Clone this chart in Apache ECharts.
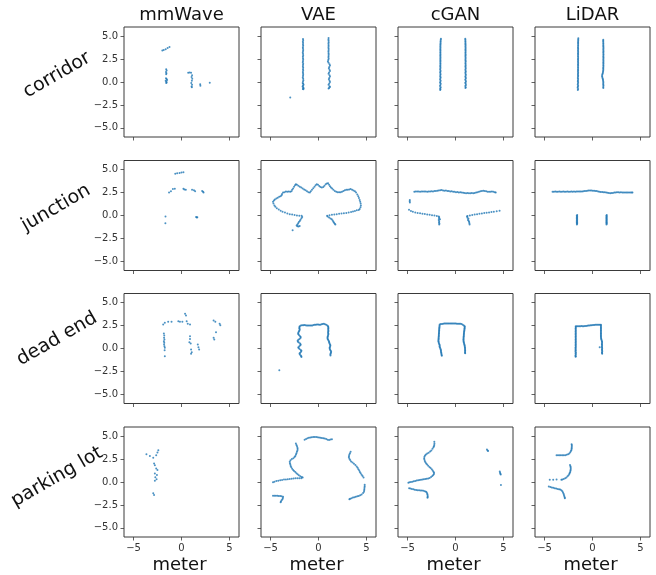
<!DOCTYPE html>
<html><head><meta charset="utf-8">
<script src="https://cdn.jsdelivr.net/npm/echarts@6/dist/echarts.min.js"></script>
<style>html,body{margin:0;padding:0;background:#fff}#c{width:656px;height:575px}</style>
</head><body><div id="c"></div>
<script>
const columns = ['mmWave', 'VAE', 'cGAN', 'LiDAR'];
const rows = ['corridor', 'junction', 'dead end', 'parking lot'];
const xTicks = [-5, 0, 5];
const yTicks = [-5, -2.5, 0, 2.5, 5];
const xLabelText = 'meter';

const corridorMmWave = [[-2.0,3.45],[-1.85,3.5],[-1.65,3.58],[-1.45,3.7],[-1.25,3.82],
[-1.6,1.4],[-1.55,1.25],[-1.62,1.1],[-1.57,0.95],[-1.6,0.85],[-1.62,0.42],[-1.55,0.32],[-1.5,0.22],[-1.65,0.15],[-1.58,0.05],[-1.55,-0.05],[-1.6,-0.12],
[0.7,1.0],[0.85,1.05],[1.0,1.02],[1.1,0.75],[1.05,0.55],[1.12,0.35],[1.08,0.15],[1.02,-0.1],[1.1,-0.3],[1.05,-0.5],[1.08,-0.58],
[1.95,-0.25],[1.97,-0.4],[2.95,-0.08]];

const corridorVAE = [[-1.62,4.7],[-1.6,4.55],[-1.63,4.4],[-1.61,4.25],[-1.62,4.1],[-1.6,3.95],[-1.63,3.8],[-1.62,3.65],[-1.6,3.5],[-1.62,3.35],[-1.64,3.2],[-1.61,3.05],[-1.6,2.9],[-1.63,2.75],[-1.62,2.6],[-1.6,2.45],[-1.62,2.3],[-1.64,2.15],[-1.6,2.0],[-1.62,1.85],[-1.63,1.7],[-1.6,1.55],[-1.62,1.4],[-1.6,1.25],[-1.63,1.1],[-1.61,0.95],[-1.6,0.8],[-1.62,0.65],[-1.64,0.5],[-1.6,0.35],[-1.58,0.2],[-1.62,0.05],[-1.65,-0.1],[-1.6,-0.2],[-1.56,-0.3],[-1.62,-0.4],[-1.66,-0.5],[-1.6,-0.6],[-1.55,-0.68],[-1.63,-0.75],[-1.58,-0.8],
[1.05,4.8],[1.04,4.65],[1.05,4.5],[1.06,4.35],[1.04,4.2],[1.05,4.05],[1.05,3.9],[1.04,3.75],[1.06,3.6],[1.05,3.45],[1.04,3.3],[1.05,3.15],[1.06,3.0],[1.05,2.85],[1.04,2.7],[1.06,2.55],[1.02,2.4],[0.98,2.25],[1.05,2.1],[1.15,1.95],[1.2,1.8],[1.12,1.65],[1.08,1.5],[1.15,1.35],[1.2,1.2],[1.1,1.05],[1.05,0.9],[1.15,0.75],[1.2,0.6],[1.12,0.45],[1.08,0.3],[1.15,0.15],[1.2,0.0],[1.12,-0.15],[1.05,-0.3],[1.15,-0.45],[1.2,-0.55],[1.1,-0.65],[1.05,-0.72],
[-2.95,-1.7]];

const corridorCGAN = [[-1.52,4.72],[-1.54,4.6],[-1.55,4.48],[-1.56,4.36],[-1.56,4.24],[-1.57,4.12],[-1.57,4.0],[-1.58,3.88],[-1.57,3.76],[-1.58,3.64],[-1.58,3.52],[-1.57,3.4],[-1.58,3.28],[-1.58,3.16],[-1.57,3.04],[-1.58,2.92],[-1.58,2.8],[-1.57,2.68],[-1.58,2.56],[-1.58,2.44],[-1.57,2.32],[-1.58,2.2],[-1.58,2.08],[-1.57,1.96],[-1.58,1.84],[-1.59,1.72],[-1.57,1.6],[-1.58,1.48],[-1.6,1.36],[-1.56,1.24],[-1.58,1.12],[-1.6,1.0],[-1.56,0.88],[-1.58,0.76],[-1.6,0.64],[-1.55,0.52],[-1.58,0.4],[-1.61,0.28],[-1.55,0.16],[-1.58,0.04],[-1.61,-0.08],[-1.54,-0.2],[-1.58,-0.32],[-1.62,-0.44],[-1.54,-0.56],[-1.6,-0.68],[-1.57,-0.8],[-1.6,-0.86],
[1.02,4.72],[1.03,4.6],[1.03,4.48],[1.04,4.36],[1.04,4.24],[1.04,4.12],[1.05,4.0],[1.04,3.88],[1.05,3.76],[1.05,3.64],[1.04,3.52],[1.05,3.4],[1.05,3.28],[1.04,3.16],[1.05,3.04],[1.05,2.92],[1.04,2.8],[1.05,2.68],[1.05,2.56],[1.04,2.44],[1.05,2.32],[1.06,2.2],[1.04,2.08],[1.05,1.96],[1.06,1.84],[1.04,1.72],[1.05,1.6],[1.07,1.48],[1.03,1.36],[1.05,1.24],[1.07,1.12],[1.03,1.0],[1.05,0.88],[1.08,0.76],[1.03,0.64],[1.05,0.52],[1.08,0.4],[1.02,0.28],[1.06,0.16],[1.09,0.04],[1.02,-0.08],[1.06,-0.2],[1.09,-0.32],[1.02,-0.44],[1.07,-0.56],[1.04,-0.66]];

const corridorLiDAR = [[-1.48,4.76],[-1.49,4.64],[-1.49,4.52],[-1.5,4.4],[-1.5,4.28],[-1.5,4.16],[-1.5,4.04],[-1.5,3.92],[-1.51,3.8],[-1.5,3.68],[-1.5,3.56],[-1.51,3.44],[-1.5,3.32],[-1.5,3.2],[-1.51,3.08],[-1.5,2.96],[-1.51,2.84],[-1.5,2.72],[-1.5,2.6],[-1.51,2.48],[-1.5,2.36],[-1.51,2.24],[-1.5,2.12],[-1.5,2.0],[-1.51,1.88],[-1.5,1.76],[-1.51,1.64],[-1.5,1.52],[-1.51,1.4],[-1.5,1.28],[-1.52,1.16],[-1.5,1.04],[-1.51,0.92],[-1.52,0.8],[-1.5,0.68],[-1.51,0.56],[-1.53,0.44],[-1.5,0.32],[-1.52,0.2],[-1.53,0.08],[-1.5,-0.04],[-1.52,-0.16],[-1.54,-0.28],[-1.5,-0.4],[-1.53,-0.52],[-1.55,-0.64],[-1.5,-0.76],[-1.53,-0.88],
[1.12,4.62],[1.12,4.5],[1.12,4.38],[1.13,4.26],[1.13,4.14],[1.13,4.02],[1.13,3.9],[1.14,3.78],[1.14,3.66],[1.13,3.54],[1.14,3.42],[1.14,3.3],[1.13,3.18],[1.14,3.06],[1.14,2.94],[1.13,2.82],[1.14,2.7],[1.14,2.58],[1.13,2.46],[1.14,2.34],[1.14,2.22],[1.13,2.1],[1.14,1.98],[1.13,1.86],[1.14,1.74],[1.13,1.62],[1.12,1.5],[1.13,1.38],[1.12,1.26],[1.1,1.14],[1.08,1.02],[1.05,0.9],[1.02,0.78],[1.0,0.66],[1.02,0.54],[1.05,0.42],[1.08,0.3],[1.1,0.18],[1.12,0.06],[1.13,-0.06],[1.12,-0.18],[1.13,-0.3],[1.14,-0.42],[1.12,-0.54],[1.13,-0.66]];

const junctionMmWave = [[-0.65,4.55],[-0.45,4.62],[-0.2,4.65],[0.0,4.7],[0.2,4.72],
[-1.3,2.5],[-1.1,2.65],[-0.9,2.9],[-0.7,2.92],[0.2,2.92],[0.3,2.85],[0.45,2.8],[1.1,2.82],[1.3,2.75],[1.42,2.65],[2.15,2.68],[2.25,2.6],[2.3,2.5],
[-1.67,-0.12],[-1.68,-0.85],[1.52,-0.15],[1.6,-0.22],[1.65,-0.18]];

const junctionVAE = [[-4.75,1.5],[-4.65,1.65],[-4.55,1.75],[-4.4,1.85],[-4.25,1.95],[-4.1,2.05],[-3.95,2.1],[-3.85,2.2],[-3.8,2.35],[-3.7,2.5],[-3.55,2.55],[-3.4,2.62],[-3.25,2.6],[-3.1,2.62],[-2.95,2.6],[-2.82,2.65],[-2.75,2.8],[-2.65,2.95],[-2.55,3.15],[-2.45,3.3],[-2.36,3.42],[-2.25,3.35],[-2.1,3.25],[-1.95,3.15],[-1.8,3.05],[-1.65,2.95],[-1.5,2.85],[-1.35,2.75],[-1.2,2.65],[-1.05,2.55],[-0.9,2.5],[-0.8,2.65],[-0.68,2.8],[-0.55,2.98],[-0.42,3.15],[-0.3,3.3],[-0.18,3.42],[-0.05,3.35],[0.08,3.22],[0.2,3.12],[0.35,3.05],[0.5,3.1],[0.62,3.25],[0.75,3.4],[0.88,3.5],[1.0,3.52],[1.1,3.35],[1.2,3.2],[1.3,3.05],[1.42,2.95],[1.55,2.8],[1.7,2.68],[1.85,2.58],[2.0,2.55],[2.15,2.55],[2.3,2.55],[2.45,2.6],[2.6,2.68],[2.75,2.75],[2.9,2.8],[3.05,2.82],[3.2,2.85],[3.35,2.88],[3.5,2.8],[3.65,2.72],[3.8,2.65],[3.92,2.5],[4.05,2.3],[4.15,2.1],[4.22,1.9],[4.3,1.7],[4.35,1.5],[4.4,1.3],[4.42,1.1],[4.38,0.9],[4.3,0.72],[4.2,0.6],
[-4.7,1.3],[-4.6,1.1],[-4.5,0.95],[-4.35,0.8],[-4.15,0.65],[-3.95,0.52],[-3.75,0.42],[-3.5,0.32],[-3.25,0.22],[-3.0,0.15],[-2.75,0.1],[-2.5,0.05],[-2.25,0.0],[-2.0,-0.02],[-1.76,-0.04],
[0.9,-0.04],[1.15,0.02],[1.4,0.08],[1.65,0.12],[1.9,0.15],[2.15,0.18],[2.4,0.22],[2.65,0.25],[2.9,0.28],[3.15,0.32],[3.4,0.38],[3.6,0.44],[3.8,0.5],[4.0,0.56],
[-1.7,-0.15],[-1.78,-0.3],[-1.88,-0.45],[-1.95,-0.6],[-2.05,-0.72],[-2.12,-0.85],[-2.2,-0.98],[-2.28,-1.1],[-2.2,-1.18],[-2.08,-1.2],[-1.96,-1.15],
[0.95,-0.12],[1.1,-0.22],[1.25,-0.32],[1.38,-0.42],[1.48,-0.55],[1.55,-0.68],[1.62,-0.8],[1.7,-0.9],[1.76,-0.98],
[-2.7,-1.62]];

const junctionCGAN = [[-4.3,2.6],[-4.15,2.62],[-4.0,2.61],[-3.85,2.62],[-3.7,2.6],[-3.55,2.62],[-3.4,2.63],[-3.25,2.61],[-3.1,2.62],[-2.95,2.6],[-2.8,2.63],[-2.65,2.62],[-2.5,2.64],[-2.35,2.63],[-2.2,2.66],[-2.05,2.68],[-1.9,2.7],[-1.75,2.72],[-1.6,2.75],[-1.45,2.78],[-1.3,2.74],[-1.15,2.7],[-1.0,2.72],[-0.85,2.68],[-0.7,2.66],[-0.55,2.62],[-0.4,2.64],[-0.25,2.6],[-0.1,2.58],[0.05,2.55],[0.2,2.56],[0.35,2.52],[0.5,2.55],[0.65,2.5],[0.8,2.48],[0.95,2.46],[1.1,2.44],[1.25,2.45],[1.4,2.43],[1.55,2.44],[1.7,2.45],[1.85,2.44],[2.0,2.46],[2.15,2.5],[2.3,2.55],[2.45,2.6],[2.6,2.64],[2.75,2.68],[2.9,2.7],[3.05,2.68],[3.2,2.65],[3.35,2.6],[3.5,2.58],[3.65,2.6],[3.8,2.62],[3.95,2.58],[4.1,2.55],[4.2,2.5],
[-4.77,1.7],[-4.78,1.55],[-4.76,1.42],
[-4.85,0.62],[-4.65,0.48],[-4.45,0.4],[-4.2,0.33],[-3.95,0.28],[-3.7,0.24],[-3.45,0.2],[-3.2,0.16],[-2.95,0.12],[-2.7,0.08],[-2.45,0.04],[-2.2,0.0],[-1.95,-0.05],[-1.75,-0.1],
[-1.7,-0.2],[-1.72,-0.32],[-1.62,-0.42],[-1.75,-0.5],[-1.7,-0.62],[-1.72,-0.75],[-1.68,-0.88],[-1.7,-0.98],
[1.2,-0.12],[1.25,-0.25],[1.35,-0.35],[1.3,-0.48],[1.38,-0.6],[1.42,-0.72],[1.45,-0.85],[1.47,-0.98],
[1.25,-0.05],[1.5,0.0],[1.75,0.05],[2.0,0.1],[2.25,0.14],[2.5,0.18],[2.75,0.22],[3.0,0.26],[3.25,0.3],[3.5,0.34],[3.75,0.38],[4.0,0.42],[4.3,0.47],[4.6,0.52]];

const junctionLiDAR = [[-4.17,2.6],[-4.03,2.6],[-3.89,2.61],[-3.75,2.6],[-3.61,2.6],[-3.47,2.61],[-3.33,2.6],[-3.19,2.6],[-3.05,2.61],[-2.91,2.6],[-2.77,2.6],[-2.63,2.61],[-2.49,2.6],[-2.35,2.6],[-2.21,2.61],[-2.07,2.6],[-1.93,2.61],[-1.79,2.6],[-1.65,2.61],[-1.51,2.62],[-1.37,2.62],[-1.23,2.63],[-1.09,2.63],[-0.95,2.64],[-0.81,2.66],[-0.67,2.68],[-0.53,2.7],[-0.39,2.72],[-0.25,2.72],[-0.11,2.72],[0.03,2.71],[0.17,2.7],[0.31,2.68],[0.45,2.66],[0.59,2.62],[0.73,2.58],[0.87,2.56],[1.01,2.56],[1.15,2.55],[1.29,2.54],[1.43,2.5],[1.57,2.47],[1.71,2.45],[1.85,2.44],[1.99,2.45],[2.13,2.46],[2.27,2.5],[2.41,2.52],[2.55,2.53],[2.69,2.53],[2.83,2.52],[2.97,2.53],[3.11,2.52],[3.25,2.52],[3.39,2.52],[3.53,2.51],[3.67,2.52],[3.81,2.51],[3.95,2.5],[4.09,2.5],[4.17,2.5],
[-1.6,0.05],[-1.64,-0.03],[-1.6,-0.11],[-1.64,-0.19],[-1.6,-0.27],[-1.64,-0.35],[-1.6,-0.43],[-1.64,-0.51],[-1.6,-0.59],[-1.64,-0.67],[-1.6,-0.75],[-1.64,-0.83],[-1.6,-0.91],[-1.63,-0.99],
[1.49,0.05],[1.45,-0.03],[1.49,-0.11],[1.45,-0.19],[1.49,-0.27],[1.45,-0.35],[1.49,-0.43],[1.45,-0.51],[1.49,-0.59],[1.45,-0.67],[1.49,-0.75],[1.45,-0.83],[1.49,-0.91],[1.46,-0.99]];

const deadEndMmWave = [[0.37,3.78],[0.47,3.6],
[-1.91,2.62],[-1.74,2.8],[-1.39,2.91],[-1.04,2.91],[-0.33,2.98],[-0.16,2.91],[0.09,2.91],[0.54,2.98],[0.65,2.69],[0.89,2.62],
[-1.84,1.64],[-1.8,1.42],[-1.82,1.16],[-1.78,0.98],[-1.84,0.8],[-1.8,0.62],[-1.82,0.44],[-1.78,0.25],[-1.74,0.07],[-1.76,-0.18],[-1.74,-0.84],
[0.89,1.35],[0.89,1.05],[0.82,0.69],[0.96,0.55],[1.0,-0.11],[1.07,-0.4],[1.0,-0.58],
[1.7,0.44],[1.77,0.15],[1.84,-0.11],
[3.35,3.05],[3.53,2.91],[3.98,2.69],[4.05,2.55],[3.6,1.78],[3.35,1.16],[3.42,0.98]];

const deadEndVAE = [[-1.96,2.44],[-1.84,2.5],[-1.72,2.54],[-1.6,2.55],[-1.48,2.56],[-1.36,2.55],[-1.24,2.52],[-1.12,2.5],[-1.0,2.5],[-0.88,2.52],[-0.76,2.5],[-0.64,2.52],[-0.52,2.56],[-0.4,2.6],[-0.28,2.6],[-0.16,2.62],[-0.04,2.62],[0.08,2.6],[0.2,2.6],[0.32,2.64],[0.44,2.67],[0.56,2.69],[0.68,2.64],[0.8,2.58],[0.92,2.5],[1.0,2.44],
[-1.98,2.35],[-2.0,2.25],[-1.98,2.15],[-1.96,2.05],[-2.0,1.95],[-2.05,1.85],[-2.1,1.75],[-2.12,1.65],[-2.1,1.55],[-2.02,1.45],[-1.92,1.35],[-1.86,1.25],[-1.88,1.15],[-1.98,1.05],[-2.1,0.95],[-2.18,0.85],[-2.15,0.75],[-2.05,0.65],[-1.92,0.55],[-1.86,0.45],[-1.9,0.35],[-2.0,0.25],[-2.1,0.15],[-2.08,0.05],[-1.98,-0.05],[-1.85,-0.15],[-1.78,-0.25],[-1.82,-0.35],[-1.92,-0.45],[-1.98,-0.55],[-1.95,-0.65],[-1.85,-0.75],[-1.8,-0.85],[-1.78,-0.92],
[1.02,2.35],[1.03,2.25],[1.02,2.15],[1.02,2.05],[1.03,1.95],[1.02,1.85],[1.0,1.75],[1.02,1.65],[1.03,1.55],[1.0,1.45],[0.97,1.35],[0.95,1.25],[0.94,1.15],[0.96,1.05],[1.0,0.95],[1.06,0.85],[1.1,0.75],[1.12,0.65],[1.15,0.55],[1.2,0.45],[1.24,0.35],[1.22,0.25],[1.18,0.15],[1.16,0.05],[1.18,-0.05],[1.22,-0.15],[1.28,-0.25],[1.32,-0.35],[1.3,-0.45],[1.26,-0.55],[1.24,-0.65],[1.25,-0.75],
[-4.09,-2.36]];

const deadEndCGAN = [[-1.65,2.62],[-1.53,2.66],[-1.41,2.68],[-1.29,2.7],[-1.17,2.72],[-1.05,2.73],[-0.93,2.72],[-0.81,2.73],[-0.69,2.72],[-0.57,2.74],[-0.45,2.73],[-0.33,2.72],[-0.21,2.73],[-0.09,2.72],[0.03,2.72],[0.15,2.71],[0.27,2.7],[0.39,2.7],[0.51,2.69],[0.63,2.66],[0.75,2.6],[0.87,2.52],[0.96,2.44],
[-1.66,2.5],[-1.67,2.4],[-1.68,2.3],[-1.69,2.2],[-1.7,2.1],[-1.7,2.0],[-1.71,1.9],[-1.72,1.8],[-1.72,1.7],[-1.73,1.6],[-1.74,1.5],[-1.74,1.4],[-1.75,1.3],[-1.76,1.2],[-1.76,1.1],[-1.77,1.0],[-1.78,0.9],[-1.78,0.8],[-1.76,0.7],[-1.74,0.6],[-1.7,0.5],[-1.66,0.4],[-1.65,0.3],[-1.66,0.2],[-1.62,0.1],[-1.58,0.0],[-1.55,-0.1],[-1.52,-0.2],[-1.52,-0.3],[-1.5,-0.4],[-1.48,-0.5],[-1.47,-0.6],[-1.45,-0.7],[-1.43,-0.8],
[0.96,2.35],[0.95,2.25],[0.94,2.15],[0.93,2.05],[0.92,1.95],[0.9,1.85],[0.89,1.75],[0.88,1.65],[0.87,1.55],[0.87,1.45],[0.86,1.35],[0.85,1.25],[0.84,1.15],[0.84,1.05],[0.83,0.95],[0.84,0.85],[0.85,0.75],[0.87,0.65],[0.9,0.55],[0.92,0.45],[0.95,0.35],[0.96,0.25],[0.98,0.15],[0.99,0.05],[1.0,-0.05],[1.0,-0.15],[1.01,-0.25],[1.0,-0.35],[1.0,-0.45],[1.01,-0.52]];

const deadEndLiDAR = [[-1.75,2.44],[-1.63,2.44],[-1.51,2.44],[-1.39,2.44],[-1.27,2.44],[-1.15,2.45],[-1.03,2.44],[-0.91,2.44],[-0.79,2.45],[-0.67,2.45],[-0.55,2.48],[-0.43,2.5],[-0.31,2.52],[-0.19,2.54],[-0.07,2.55],[0.05,2.56],[0.17,2.57],[0.29,2.58],[0.41,2.58],[0.53,2.6],[0.65,2.6],[0.77,2.6],[0.88,2.6],
[-1.75,2.35],[-1.75,2.25],[-1.76,2.15],[-1.75,2.05],[-1.75,1.95],[-1.76,1.85],[-1.75,1.75],[-1.75,1.65],[-1.76,1.55],[-1.75,1.45],[-1.75,1.35],[-1.76,1.25],[-1.75,1.15],[-1.75,1.05],[-1.76,0.95],[-1.75,0.85],[-1.75,0.75],[-1.76,0.65],[-1.75,0.55],[-1.75,0.45],[-1.76,0.35],[-1.75,0.25],[-1.75,0.15],[-1.78,0.05],[-1.74,-0.05],[-1.78,-0.15],[-1.74,-0.25],[-1.78,-0.35],[-1.73,-0.45],[-1.77,-0.55],[-1.74,-0.65],[-1.78,-0.75],[-1.75,-0.85],[-1.76,-0.91],
[0.88,2.5],[0.88,2.4],[0.88,2.3],[0.88,2.2],[0.88,2.1],[0.88,2.0],[0.88,1.9],[0.88,1.8],[0.88,1.7],[0.88,1.6],[0.88,1.5],[0.88,1.4],[0.88,1.3],[0.89,1.2],[0.9,1.1],[0.92,1.0],[0.95,0.9],[0.98,0.8],[1.0,0.7],[1.0,0.6],[0.98,0.5],[0.99,0.4],[1.0,0.3],[0.98,0.2],[0.75,0.15],[1.0,0.1],[1.01,0.0],[0.99,-0.1],[1.0,-0.2],[1.02,-0.3],[0.99,-0.4],[1.0,-0.5],[1.01,-0.56]];

const parkingMmWave = [[-3.66,3.03],[-3.3,2.85],[-2.64,2.92],[-2.42,3.47],[-2.51,3.21],[-2.95,2.64],[-2.86,2.02],[-2.78,1.84],[-2.64,1.48],[-2.51,1.3],[-2.78,0.94],[-2.56,0.76],[-2.73,0.51],[-2.6,0.29],[-2.78,0.14],[-2.95,-1.23],[-2.86,-1.41]];

const parkingVAE = [[-1.45,4.62],[-1.3,4.7],[-1.15,4.78],[-1.0,4.84],[-0.85,4.86],[-0.7,4.88],[-0.55,4.9],[-0.4,4.92],[-0.25,4.9],[-0.1,4.88],[0.05,4.85],[0.2,4.82],[0.35,4.8],[0.5,4.78],[0.65,4.75],[0.8,4.68],[0.95,4.6],[1.1,4.58],[1.25,4.64],[1.4,4.66],
[-2.36,4.2],[-2.3,4.05],[-2.24,3.9],[-2.2,3.75],[-2.18,3.6],[-2.2,3.45],[-2.25,3.3],[-2.3,3.15],[-2.35,3.0],[-2.42,2.85],[-2.5,2.72],[-2.62,2.6],[-2.78,2.5],[-2.92,2.38],[-3.0,2.22],[-2.98,2.05],[-2.94,1.9],[-2.9,1.75],[-2.84,1.6],[-2.75,1.45],[-2.65,1.32],[-2.55,1.2],[-2.42,1.08],[-2.3,0.96],[-2.18,0.84],[-2.05,0.74],[-1.9,0.64],[-1.75,0.55],[-1.65,0.48],
[-1.8,0.42],[-2.0,0.42],[-2.2,0.41],[-2.4,0.4],[-2.6,0.38],[-2.8,0.36],[-3.0,0.33],[-3.2,0.3],[-3.4,0.28],[-3.6,0.26],[-3.8,0.23],[-4.0,0.2],[-4.2,0.15],[-4.4,0.1],[-4.6,0.03],[-4.75,-0.04],
[-4.75,-1.49],[-4.6,-1.5],[-4.45,-1.5],[-4.3,-1.51],[-4.15,-1.52],[-4.0,-1.52],[-3.85,-1.55],[-3.7,-1.6],[-3.72,-1.75],[-3.76,-1.88],[-3.85,-2.0],[-3.92,-2.12],[-3.95,-2.22],
[3.35,3.3],[3.28,3.15],[3.22,3.0],[3.18,2.85],[3.17,2.7],[3.22,2.55],[3.3,2.4],[3.4,2.25],[3.55,2.12],[3.7,2.0],[3.85,1.85],[3.98,1.7],[4.08,1.55],[4.16,1.4],[4.25,1.25],[4.32,1.1],[4.4,0.95],[4.5,0.8],[4.6,0.65],[4.7,0.5],
[4.82,-0.3],[4.82,-0.45],[4.8,-0.6],[4.79,-0.75],[4.77,-0.9],[4.75,-1.05],[4.65,-1.2],[4.5,-1.35],[4.35,-1.45],[4.2,-1.52],[4.05,-1.56],[3.9,-1.6],[3.75,-1.65],[3.6,-1.7],[3.45,-1.76],[3.3,-1.82],[3.22,-1.88]];

const parkingCGAN = [[-2.21,4.38],[-2.2,4.2],[-2.22,4.05],[-2.25,3.9],[-2.3,3.78],[-2.4,3.62],[-2.52,3.45],[-2.65,3.32],[-2.8,3.2],[-2.95,3.1],[-3.08,3.0],[-3.18,2.88],[-3.24,2.75],[-3.27,2.6],[-3.25,2.45],[-3.2,2.3],[-3.14,2.15],[-3.06,2.02],[-2.96,1.9],[-2.85,1.78],[-2.72,1.65],[-2.6,1.52],[-2.48,1.38],[-2.38,1.25],[-2.3,1.12],[-2.24,1.0],[-2.25,0.88],[-2.32,0.76],[-2.42,0.65],[-2.55,0.55],[-2.7,0.45],[-2.85,0.38],[-3.0,0.35],[-3.15,0.32],[-3.3,0.3],[-3.45,0.28],[-3.6,0.25],[-3.75,0.22],[-3.9,0.19],[-4.05,0.16],[-4.2,0.12],[-4.35,0.08],[-4.5,0.04],[-4.65,0.0],[-4.8,-0.04],[-4.92,-0.07],
[-4.84,-0.68],[-4.7,-0.72],[-4.55,-0.76],[-4.4,-0.8],[-4.25,-0.84],[-4.1,-0.87],[-3.95,-0.89],[-3.8,-0.9],[-3.65,-0.92],[-3.5,-0.94],[-3.35,-0.96],[-3.2,-1.0],[-3.08,-1.06],[-3.0,-1.15],[-2.95,-1.28],[-2.92,-1.4],[-2.9,-1.52],[-2.91,-1.64],[-2.92,-1.72],
[3.28,3.55],[3.35,3.45],[3.4,3.38],[4.62,1.15],[4.65,1.0],[4.68,0.9],[4.72,0.82],[4.74,-0.33]];

const parkingLiDAR = [[-2.18,4.13],[-2.16,4.0],[-2.16,3.88],[-2.17,3.75],[-2.18,3.62],[-2.2,3.5],[-2.25,3.38],[-2.32,3.25],[-2.42,3.12],[-2.55,3.02],[-2.7,2.96],[-2.85,2.93],[-3.0,2.92],[-3.15,2.92],[-3.3,2.92],[-3.45,2.92],[-3.6,2.92],[-3.75,2.93],
[-2.35,1.85],[-2.3,1.72],[-2.28,1.6],[-2.27,1.48],[-2.28,1.35],[-2.3,1.22],[-2.33,1.1],[-2.38,0.98],[-2.42,0.86],[-2.5,0.74],[-2.6,0.62],[-2.72,0.5],[-2.85,0.4],[-3.0,0.32],[-3.15,0.28],[-3.25,0.25],
[-4.46,0.25],[-4.1,0.25],[-3.75,0.28],
[-4.56,-0.5],[-4.4,-0.55],[-4.25,-0.6],[-4.1,-0.64],[-3.95,-0.68],[-3.8,-0.72],[-3.65,-0.75],[-3.5,-0.78],[-3.38,-0.82],[-3.25,-0.9],[-3.15,-1.02],[-3.08,-1.15],[-3.02,-1.28],[-2.98,-1.42],[-2.94,-1.56],[-2.9,-1.7],[-2.88,-1.78]];

const panelData = [
  [corridorMmWave, corridorVAE, corridorCGAN, corridorLiDAR],
  [junctionMmWave, junctionVAE, junctionCGAN, junctionLiDAR],
  [deadEndMmWave, deadEndVAE, deadEndCGAN, deadEndLiDAR],
  [parkingMmWave, parkingVAE, parkingCGAN, parkingLiDAR]
];

// layout
const lefts = [124, 261, 398, 535];
const tops = [27, 160.5, 293.5, 427];
const W = 115, H = 110;
const FONT = 'DejaVu Sans';
const AX = '#3a3a3a';

const grids = [], xAxes = [], yAxes = [], series = [], graphics = [];
const minus = s => String(s).replace('-', '\u2212');
for (let r = 0; r < 4; r++) {
  for (let c = 0; c < 4; c++) {
    const i = r * 4 + c;
    grids.push({left: lefts[c], top: tops[r], width: W, height: H, show: true,
      borderColor: AX, borderWidth: 1, backgroundColor: '#fff', containLabel: false, outerBoundsMode: 'none'});
    xAxes.push({type: 'value', gridIndex: i, min: -6, max: 6, position: 'bottom',
      axisLine: {show: false, onZero: false}, splitLine: {show: false},
      axisTick: {show: true, inside: false, length: 3.5, customValues: xTicks, lineStyle: {color: AX, width: 0.8}},
      axisLabel: {show: r === 3, customValues: xTicks, margin: 6, color: '#333', fontSize: 10, fontFamily: FONT,
        formatter: v => minus(v)}});
    yAxes.push({type: 'value', gridIndex: i, min: -6, max: 6, position: 'left',
      axisLine: {show: false, onZero: false}, splitLine: {show: false},
      axisTick: {show: true, inside: false, length: 3.5, customValues: yTicks, lineStyle: {color: AX, width: 0.8}},
      axisLabel: {show: c === 0, customValues: yTicks, margin: 6, color: '#333', fontSize: 10, fontFamily: FONT,
        formatter: v => minus(Number(v).toFixed(1))}});
    series.push({type: 'scatter', xAxisIndex: i, yAxisIndex: i, data: panelData[r][c],
      symbol: 'circle', symbolSize: 2, silent: true,
      itemStyle: {color: '#1f77b4', opacity: 0.8}});
  }
}
for (let c = 0; c < 4; c++) {
  graphics.push({type: 'text', x: lefts[c] + W / 2, y: 15,
    style: {text: columns[c], font: '18px "' + FONT + '"', fill: '#111', textAlign: 'center', textVerticalAlign: 'middle', align: 'center', verticalAlign: 'middle'}});
  graphics.push({type: 'text', x: lefts[c] + W / 2 - 2, y: 565,
    style: {text: xLabelText, font: '18px "' + FONT + '"', fill: '#111', textAlign: 'center', textVerticalAlign: 'middle', align: 'center', verticalAlign: 'middle'}});
}
const rowCenters = [[57, 75], [56, 208], [57, 339], [57, 477]];
for (let r = 0; r < 4; r++) {
  graphics.push({type: 'text', x: rowCenters[r][0], y: rowCenters[r][1], rotation: Math.PI / 6,
    style: {text: rows[r], font: '19px "' + FONT + '"', fill: '#111', textAlign: 'center', textVerticalAlign: 'middle', align: 'center', verticalAlign: 'middle'}});
}

const chart = echarts.init(document.getElementById('c'), null, {renderer: 'canvas'});
chart.setOption({animation: false, backgroundColor: '#fff', grid: grids, xAxis: xAxes, yAxis: yAxes, series: series, graphic: graphics});
</script>
</body></html>
